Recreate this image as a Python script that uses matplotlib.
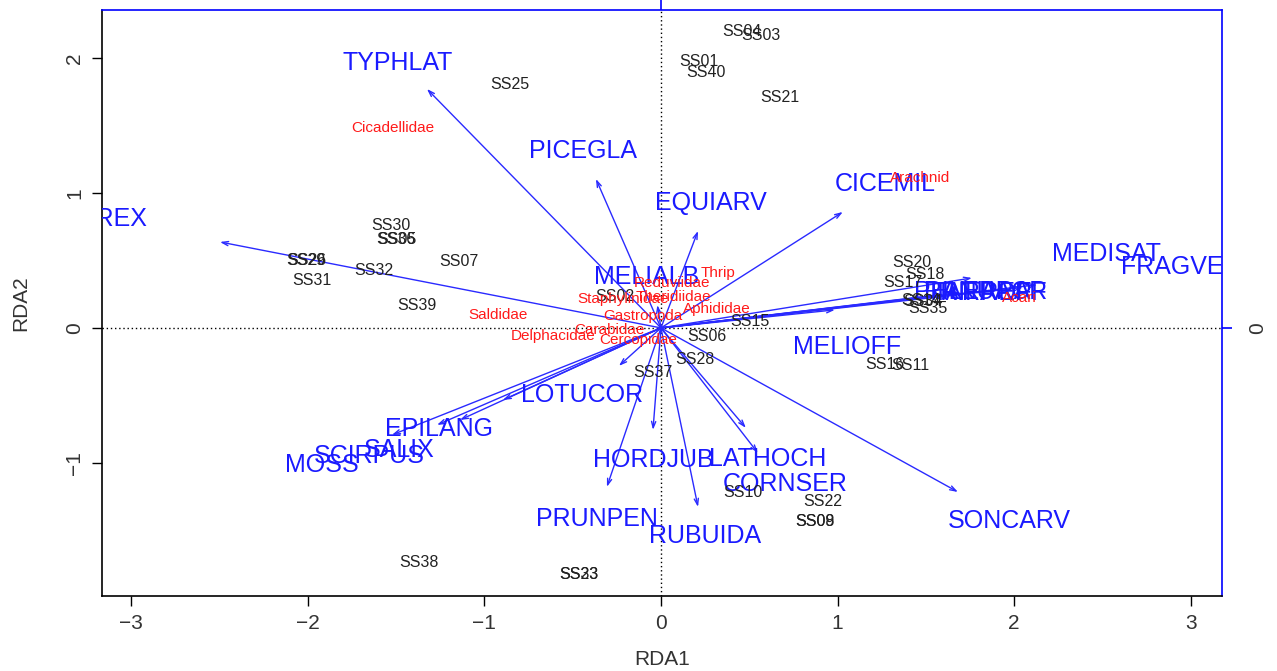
import matplotlib
matplotlib.use("Agg")
import matplotlib.pyplot as plt

plt.rcParams["font.family"] = ["Liberation Sans", "DejaVu Sans"]

# ---- site scores (black labels) ----
site_names = ["SS04", "SS03", "SS01", "SS40", "SS21", "SS25", "SS30", "SS36", "SS05",
              "SS29", "SS26", "SS31", "SS32", "SS07", "SS39", "SS02", "SS15", "SS06",
              "SS28", "SS37", "SS20", "SS18", "SS17", "SS14", "SS34", "SS35", "SS16",
              "SS11", "SS10", "SS22", "SS09", "SS08", "SS38", "SS23", "SS33"]
site_x = [0.459, 0.566, 0.215, 0.255, 0.674, -0.855, -1.529, -1.50, -1.495,
          -2.01, -2.005, -1.976, -1.625, -1.144, -1.38, -0.26, 0.504, 0.26,
          0.193, -0.045, 1.421, 1.495, 1.37, 1.47, 1.485, 1.512, 1.27,
          1.41, 0.464, 0.917, 0.872, 0.874, -1.37, -0.464, -0.462]
site_y = [2.20, 2.17, 1.975, 1.893, 1.707, 1.804, 0.757, 0.66, 0.66,
          0.497, 0.497, 0.349, 0.423, 0.49, 0.163, 0.23, 0.045, -0.067,
          -0.238, -0.334, 0.483, 0.40, 0.334, 0.205, 0.195, 0.141, -0.275,
          -0.282, -1.218, -1.29, -1.44, -1.44, -1.745, -1.834, -1.834]

# ---- species scores (red labels) ----
spec_names = ["Cicadellidae", "Arachnid", "Thrip", "Reduviidae", "Staphylinidae",
              "Theridiidae", "Aphididae", "Gastropoda", "Carabidae", "Cercopidae",
              "Delphacidae", "Saldidae", "Acari"]
spec_x = [-1.518, 1.467, 0.323, 0.062, -0.215, 0.068, 0.317, -0.10, -0.29, -0.13,
          -0.61, -0.923, 2.03]
spec_y = [1.485, 1.114, 0.408, 0.334, 0.215, 0.23, 0.141, 0.089, -0.015, -0.09,
          -0.06, 0.097, 0.22]

# ---- environmental biplot arrows (blue) ----
env_names = ["TYPHLAT", "CAREX", "PICEGLA", "EQUIARV", "CICEMIL", "MEDISAT", "FRAGVES",
             "MELIALB", "MELIOFF", "PHLEPRA", "TRIFREP", "RANUACR", "TARAOFF",
             "LOTUCOR", "EPILANG", "SALIX", "SCIRPUS", "MOSS", "HORDJUB", "LATHOCH",
             "CORNSER", "PRUNPEN", "RUBUIDA", "SONCARV"]
env_x = [-1.325, -2.497, -0.368, 0.21, 1.03, 1.761, 2.13,
         -0.02, 0.985, 1.60, 1.55, 1.70, 2.05,
         -0.238, -1.268, -1.523, -1.138, -0.895, -0.045, 0.549,
         0.481, -0.306, 0.21, 1.682]
env_y = [1.774, 0.638, 1.106, 0.72, 0.861, 0.371, 0.32,
         0.17, 0.134, 0.25, 0.24, 0.26, 0.30,
         -0.282, -0.72, -0.794, -0.683, -0.535, -0.757, -0.928,
         -0.742, -1.18, -1.329, -1.218]
env_lab_x = [-1.49, -3.15, -0.442, 0.283, 1.268, 2.525, 2.94,
             -0.079, 1.053, 1.76, 1.80, 1.84, 1.86,
             -0.447, -1.257, -1.484, -1.65, -1.92, -0.045, 0.606,
             0.702, -0.362, 0.249, 1.97]
env_lab_y = [1.967, 0.81, 1.314, 0.928, 1.069, 0.549, 0.453,
             0.379, -0.141, 0.267, 0.262, 0.268, 0.26,
             -0.497, -0.75, -0.906, -0.95, -1.02, -0.98, -0.972,
             -1.158, -1.418, -1.544, -1.433]

x_ticks = [-3, -2, -1, 0, 1, 2, 3]
y_ticks = [-1, 0, 1, 2]

fig = plt.figure(figsize=(12.77, 6.71), dpi=100)
ax = fig.add_axes([102 / 1277, 75 / 671, 1120 / 1277, 586 / 671])
ax.set_xlim(-3.165, 3.177)
ax.set_ylim(-1.99, 2.36)

ax.axhline(0, color="black", ls=(0, (1, 2)), lw=1.0, zorder=1)
ax.axvline(0, color="black", ls=(0, (1, 2)), lw=1.0, zorder=1)

arrow_col = "#2a2aff"
for x, y in zip(env_x, env_y):
    ax.annotate("", xy=(x, y), xytext=(0, 0),
                arrowprops=dict(arrowstyle="->,head_length=0.45,head_width=0.15",
                                color=arrow_col, lw=1.0, shrinkA=0, shrinkB=0),
                zorder=2)

for n, x, y in zip(env_names, env_lab_x, env_lab_y):
    ax.text(x, y, n, color="#1a1aff", fontsize=18, ha="center", va="center",
            clip_on=True, zorder=3)

for n, x, y in zip(site_names, site_x, site_y):
    ax.text(x, y, n, color="#222222", fontsize=11.5, ha="center", va="center",
            clip_on=True, zorder=3)

for n, x, y in zip(spec_names, spec_x, spec_y):
    ax.text(x, y, n, color="#ff1a1a", fontsize=11, ha="center", va="center",
            clip_on=True, zorder=3)

ax.set_xticks(x_ticks)
ax.set_yticks(y_ticks)
ax.set_xticklabels([str(v).replace("-", "\u2212") for v in x_ticks], fontsize=15, color="#333333")
ax.set_yticklabels([str(v).replace("-", "\u2212") for v in y_ticks], fontsize=15,
                   rotation=90, va="center", color="#333333")
ax.tick_params(direction="out", length=7, width=1, pad=6)

ax.set_xlabel("RDA1", fontsize=15, color="#333333", labelpad=12)
ax.set_ylabel("RDA2", fontsize=15, color="#333333", labelpad=25)

for s in ["left", "bottom"]:
    ax.spines[s].set_color("black")
    ax.spines[s].set_linewidth(1.2)
for s in ["right", "top"]:
    ax.spines[s].set_color("blue")
    ax.spines[s].set_linewidth(1.2)

# secondary (blue) axes for biplot scale
axr = ax.twinx()
axr.set_ylim(ax.get_ylim())
axr.set_yticks([0])
axr.set_yticklabels(["0"], rotation=90, va="center", fontsize=15, color="#333333")
axr.tick_params(axis="y", colors="blue", labelcolor="#333333", direction="out", length=7, width=1.2, pad=12)
for s in axr.spines.values():
    s.set_visible(False)
axt = ax.twiny()
axt.set_xlim(ax.get_xlim())
axt.set_xticks([0])
axt.set_xticklabels([""])
axt.tick_params(axis="x", colors="blue", direction="out", length=9, width=1.2)
for s in axt.spines.values():
    s.set_visible(False)

fig.savefig("out.png", dpi=100)
